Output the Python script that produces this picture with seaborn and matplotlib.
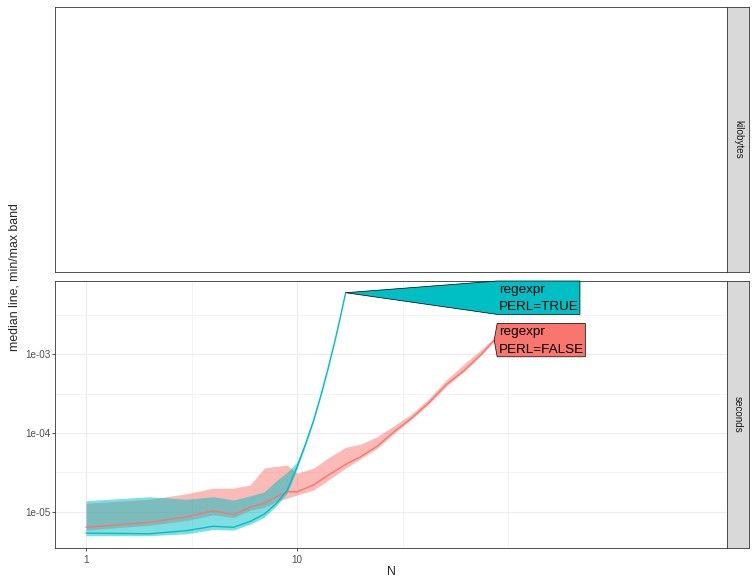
import numpy as np
import pandas as pd
import matplotlib
matplotlib.use('Agg')
import matplotlib.pyplot as plt
import matplotlib.ticker as mticker
from matplotlib.patches import Polygon
from matplotlib.transforms import IdentityTransform
import seaborn as sns

# --- data (seconds, min / median / max per N) ---
n_false = [1, 2, 3, 4, 5, 6, 7, 8, 9, 10, 12, 14, 17, 20, 24, 29, 35, 42, 51, 62, 75, 86]
false_median = [6.4e-6, 7.4e-6, 8.7e-6, 1.04e-5, 9.2e-6, 1.15e-5, 1.29e-5, 1.56e-5, 1.8e-5, 1.8e-5,
                2.2e-5, 2.9e-5, 4.0e-5, 5.0e-5, 6.8e-5, 1.05e-4, 1.55e-4, 2.4e-4, 4.1e-4, 6.2e-4,
                1.0e-3, 1.5e-3]
false_min = [5.9e-6, 6.8e-6, 7.8e-6, 9.2e-6, 8.5e-6, 1.05e-5, 1.15e-5, 1.35e-5, 1.5e-5, 1.64e-5,
             1.9e-5, 2.5e-5, 3.6e-5, 4.7e-5, 6.4e-5, 1.0e-4, 1.5e-4, 2.3e-4, 3.9e-4, 6.0e-4,
             9.8e-4, 1.45e-3]
false_max = [1.29e-5, 1.45e-5, 1.7e-5, 2.0e-5, 2.0e-5, 2.2e-5, 3.6e-5, 3.8e-5, 3.9e-5, 3.1e-5,
             3.6e-5, 4.8e-5, 6.6e-5, 7.2e-5, 9.0e-5, 1.25e-4, 1.75e-4, 2.7e-4, 4.7e-4, 7.5e-4,
             1.15e-3, 1.6e-3]

n_true = [1, 2, 3, 4, 5, 6, 7, 8, 9, 10, 11, 12, 13, 14, 15, 16, 17]
true_median = [5.4e-6, 5.3e-6, 5.8e-6, 6.6e-6, 6.4e-6, 7.6e-6, 9.4e-6, 1.29e-5, 1.9e-5, 3.7e-5,
               7.4e-5, 1.46e-4, 3.05e-4, 6.4e-4, 1.34e-3, 2.82e-3, 5.97e-3]
true_min = [5.0e-6, 5.0e-6, 5.3e-6, 6.0e-6, 5.9e-6, 7.0e-6, 8.6e-6, 1.2e-5, 1.75e-5, 3.5e-5,
            7.0e-5, 1.4e-4, 2.95e-4, 6.2e-4, 1.31e-3, 2.77e-3, 5.9e-3]
true_max = [1.39e-5, 1.56e-5, 1.45e-5, 1.56e-5, 1.42e-5, 1.6e-5, 1.8e-5, 2.5e-5, 3.2e-5, 4.3e-5,
            8.0e-5, 1.52e-4, 3.15e-4, 6.6e-4, 1.37e-3, 2.86e-3, 6.0e-3]

expr_levels = ['PERL=FALSE', 'PERL=TRUE']
label_text = {'PERL=FALSE': 'regexpr\nPERL=FALSE', 'PERL=TRUE': 'regexpr\nPERL=TRUE'}
colores = {'PERL=FALSE': '#F8766D', 'PERL=TRUE': '#00BFC4'}
facets = ['kilobytes', 'seconds']

filas = []
for expr, ns, lo, med, hi in [('PERL=FALSE', n_false, false_min, false_median, false_max),
                              ('PERL=TRUE', n_true, true_min, true_median, true_max)]:
    for i, n in enumerate(ns):
        for v in (lo[i], med[i], hi[i]):
            filas.append({'expr': expr, 'N': n, 'seconds': v})
df = pd.DataFrame(filas)

sns.set_style('white')
plt.rcParams['font.family'] = ['Liberation Sans', 'DejaVu Sans']

W, H = 756, 588
fig = plt.figure(figsize=(W / 100, H / 100), dpi=100)
fig.patch.set_facecolor('white')

def px_axes(l, t, r, b):
    return fig.add_axes([l / W, 1 - b / H, (r - l) / W, (b - t) / H])

borde = '#333333'

# ---- top panel (kilobytes): empty ----
ax_kb = px_axes(55, 7, 727, 272)
ax_kb.set_xticks([])
ax_kb.set_yticks([])

# ---- bottom panel (seconds) ----
ax_s = px_axes(55, 281, 727, 548)
ax_s.set_xscale('log')
ax_s.set_yscale('log')

sns.lineplot(data=df, x='N', y='seconds', hue='expr', hue_order=expr_levels,
             palette=colores, estimator='median',
             errorbar=lambda v: (v.min(), v.max()),
             err_kws={'alpha': 0.5, 'linewidth': 0},
             linewidth=1.0, legend=False, ax=ax_s)
for c in ax_s.collections:
    c.set_zorder(2)
for ln in ax_s.lines:
    ln.set_zorder(3)

ax_s.set_xlim(0.713, 1091)
ax_s.set_ylim(3.5e-6, 8.4e-3)
ax_s.xaxis.set_major_locator(mticker.FixedLocator([1, 10]))
ax_s.xaxis.set_major_formatter(mticker.FixedFormatter(['1', '10']))
ax_s.xaxis.set_minor_locator(mticker.FixedLocator([10 ** 0.5, 10 ** 1.5, 100]))
ax_s.xaxis.set_minor_formatter(mticker.NullFormatter())
ax_s.yaxis.set_major_locator(mticker.FixedLocator([1e-5, 1e-4, 1e-3]))
ax_s.yaxis.set_major_formatter(mticker.FixedFormatter(['1e-05', '1e-04', '1e-03']))
ax_s.yaxis.set_minor_locator(mticker.FixedLocator([10 ** -4.5, 10 ** -3.5, 10 ** -2.5]))
ax_s.yaxis.set_minor_formatter(mticker.NullFormatter())
ax_s.grid(True, which='major', color='#EBEBEB', linewidth=0.8, zorder=0)
ax_s.grid(True, which='minor', color='#EBEBEB', linewidth=0.4, zorder=0)
ax_s.set_axisbelow(True)
ax_s.set_xlabel('')
ax_s.set_ylabel('')
ax_s.tick_params(which='major', length=2.2, width=0.6, color=borde, labelsize=7.1,
                 labelcolor='#4D4D4D', direction='out')
ax_s.tick_params(axis='x', which='major', pad=2.5)
ax_s.tick_params(axis='y', which='major', pad=1.2)
ax_s.tick_params(which='minor', length=0)
ax_s.tick_params(left=True, bottom=True)

for ax in (ax_kb, ax_s):
    ax.set_facecolor('white')
    for sp in ax.spines.values():
        sp.set_visible(True)
        sp.set_color(borde)
        sp.set_linewidth(0.6)

# ---- strips ----
for (t, b), nombre in zip([(7, 272), (281, 548)], facets):
    st = px_axes(727, t, 749, b)
    st.set_facecolor('#D9D9D9')
    st.set_xticks([])
    st.set_yticks([])
    for sp in st.spines.values():
        sp.set_visible(True)
        sp.set_color(borde)
        sp.set_linewidth(0.6)
    st.text(0.5, 0.5, nombre, rotation=-90, ha='center', va='center',
            fontsize=7.1, color='#1A1A1A', transform=st.transAxes)

# ---- axis titles ----
fig.text((55 + 727) / 2 / W, 1 - 572 / H, 'N', ha='center', va='center', fontsize=8.85)
fig.text(15 / W, 1 - 277.5 / H, 'median line, min/max band', rotation=90,
         ha='center', va='center', fontsize=8.85)

# ---- direct labels (polygon boxes) ----
fig.canvas.draw()
renderer = fig.canvas.get_renderer()
ends = {}
for expr, ns, med in [('PERL=FALSE', n_false, false_median), ('PERL=TRUE', n_true, true_median)]:
    ends[expr] = ax_s.transData.transform((ns[-1], med[-1]))
box_left = max(p[0] for p in ends.values()) + 3
panel_top = ax_s.get_window_extent().y1

for expr in expr_levels:
    px, py = ends[expr]
    txt = ax_s.text(box_left + 1.5, py, label_text[expr], transform=IdentityTransform(),
                    ha='left', va='center', fontsize=9.7, linespacing=1.6,
                    color='black', zorder=6, clip_on=False)
    bb = txt.get_window_extent(renderer)
    bh = bb.height + 4
    bw = bb.width + 3
    yc = min(py, panel_top - bh / 2)
    txt.set_position((box_left + 1.5, yc - 1))
    top, bot = yc + bh / 2, yc - bh / 2
    poly = Polygon([(px, py), (box_left, top), (box_left + bw, top),
                    (box_left + bw, bot), (box_left, bot)], closed=True,
                   transform=IdentityTransform(), facecolor=colores[expr],
                   edgecolor='black', linewidth=0.5, zorder=5, clip_on=False)
    ax_s.add_artist(poly)

plt.savefig('out.png', dpi=100)
